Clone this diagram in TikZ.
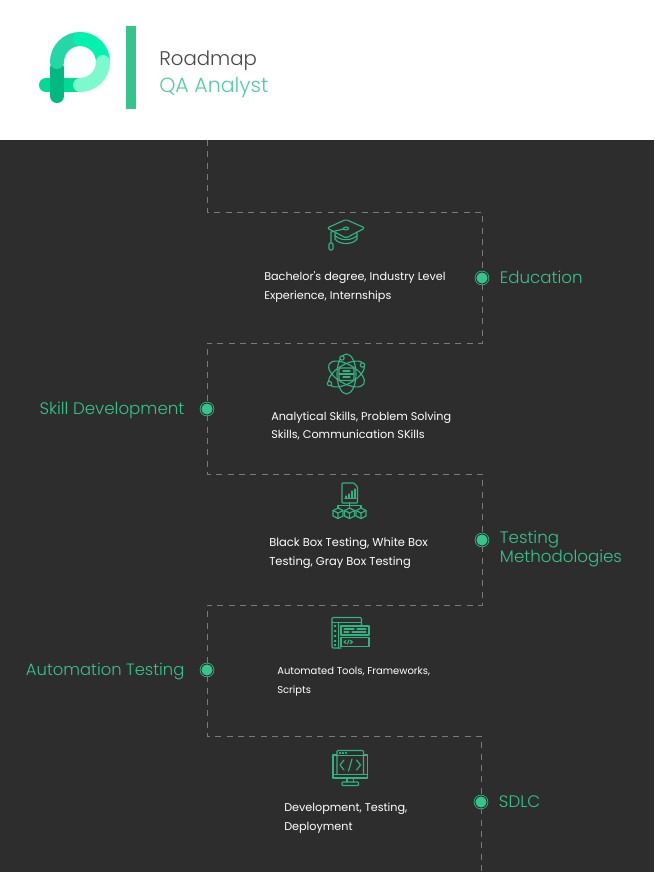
\documentclass[tikz,border=0pt]{standalone}
\usepackage{fontspec}
\setmainfont{Poppins}[UprightFont=* Light]
\newfontfamily\detailfont{Poppins}
\usepackage{tikz}
\usetikzlibrary{positioning}
\definecolor{board}{HTML}{2D2D2D}
\definecolor{leaf}{HTML}{35C48C}
\definecolor{trailgrey}{HTML}{7A7A7A}
\tikzset{
    trail/.style={draw=trailgrey, line width=0.75pt, dash pattern=on 4.5pt off 4pt},
    stop/.style={circle, draw=leaf, fill=leaf, line width=0.55pt, double=board, double distance=0.75pt, minimum size=9pt, inner sep=0pt},
    topic/.style={text=leaf, font=\fontsize{12.5pt}{14.2pt}\selectfont, align=left, inner sep=0pt},
    detail/.style={text=white, font=\detailfont\fontsize{8.4pt}{14pt}\selectfont, align=left, inner sep=0pt, anchor=west},
    icon/.style={draw=leaf!92!black, line width=0.85pt, line join=round, line cap=round},
    swoosh/.style={line width=10.5pt, line cap=round}
}
\begin{document}
\begin{tikzpicture}[x=0.75pt, y=-0.75pt, node distance=8.5pt]
    \fill[white] (0,0) rectangle (654,140);
    \fill[board] (0,140) rectangle (654,872);
    \useasboundingbox (0,0) rectangle (654,872);
    % logo
    \draw[swoosh, color={rgb,255:red,0;green,218;blue,146}] (46,85) -- (80,85);
    \draw[swoosh, color={rgb,255:red,0;green,184;blue,128}] (57,68) -- (57,96);
    \draw[swoosh, color={rgb,255:red,37;green,214;blue,166}] (57,62) arc[start angle=180, end angle=270, radius=23];
    \draw[swoosh, color={rgb,255:red,0;green,242;blue,174}] (80,39) arc[start angle=270, end angle=360, radius=23];
    \draw[swoosh, color={rgb,255:red,125;green,249;blue,206}] (103,62) arc[start angle=0, end angle=90, radius=23];
    \fill[leaf] (125.5,26) rectangle (135.5,109);
    \node (role) [anchor=base west, inner sep=0pt, text=black!72, font=\fontsize{14.8pt}{17pt}\selectfont] at (159,65) {Roadmap};
    \node (job) [anchor=base west, inner sep=0pt, text=leaf!85!white, font=\fontsize{15.4pt}{17pt}\selectfont] at (159,92) {QA Analyst};
    % stops and their labels
    \node (edu) [stop] at (482,278) {};
    \node (skill) [stop] at (207,409) {};
    \node (meth) [stop] at (482,540) {};
    \node (auto) [stop] at (207,670) {};
    \node (sdlc) [stop] at (481,802) {};
    \node (edulabel) [topic, right=of edu, yshift=0.75pt] {Education};
    \node (skilllabel) [topic, left=12pt of skill, yshift=-0.75pt] {Skill Development};
    \node (methlabel) [topic, right=of meth, yshift=-7pt] {Testing\\Methodologies};
    \node (autolabel) [topic, left=12pt of auto, yshift=-1.5pt, font=\fontsize{12.3pt}{14.2pt}\selectfont] {Automation Testing};
    \node (sdlclabel) [topic, right=of sdlc] {SDLC};
    % texts
    \node (edutext) [detail] at (264,287) {Bachelor's degree, Industry Level\\Experience, Internships};
    \node (skilltext) [detail] at (271,426) {Analytical Skills, Problem Solving\\Skills, Communication SKills};
    \node (methtext) [detail, font=\detailfont\fontsize{8.6pt}{14pt}\selectfont] at (269,553) {Black Box Testing, White Box\\Testing, Gray Box Testing};
    \node (autotext) [detail, font=\detailfont\fontsize{7.5pt}{14pt}\selectfont] at (277,681.5) {Automated Tools, Frameworks,\\Scripts};
    \node (sdlctext) [detail] at (284,818) {Development, Testing,\\Deployment};
    % dashed route
    \coordinate (start) at (207,140);
    \coordinate (c1) at (207,212);
    \coordinate (c2) at (482,212);
    \coordinate (c3) at (482,343);
    \coordinate (c4) at (207,343);
    \coordinate (c5) at (207,474);
    \coordinate (c6) at (482,474);
    \coordinate (c7) at (482,605);
    \coordinate (c8) at (207,605);
    \coordinate (c9) at (207,736);
    \coordinate (c10) at (481,736);
    \coordinate (end) at (481,872);
    \draw[trail] (start) -- (c1) -- (c2) -- (edu);
    \draw[trail] (edu) -- (c3) -- (c4) -- (skill);
    \draw[trail] (skill) -- (c5) -- (c6) -- (meth);
    \draw[trail] (meth) -- (c7) -- (c8) -- (auto);
    \draw[trail] (auto) -- (c9) -- (c10) -- (sdlc);
    \draw[trail] (sdlc) -- (end);
    % graduation cap
    \draw[icon, rounded corners=1.2pt] (346,219.5) -- (365,228) -- (346,238) -- (327,228) -- cycle;
    \draw[icon] (346,228.5) ellipse[x radius=2.6, y radius=1.4];
    \draw[icon] (343.5,229) -- (331,232) -- (331,243);
    \draw[icon, rounded corners=0.8pt] (329,243) rectangle (333,250);
    \draw[icon] (335,233) -- (335,239) .. controls (339,245) and (353,245) .. (357,239) -- (357,233);
    \draw[icon] (335,235.5) .. controls (340,241) and (352,241) .. (357,235.5);
    % atom
    \foreach \ang in {30,90,150}
        \draw[icon] (346.5,374) ellipse[x radius=20, y radius=9.5, rotate=\ang];
    \draw[icon, fill=board, rounded corners=1pt] (339,368) rectangle (354,380.5);
    \draw[icon] (339,374) -- (354,374);
    \draw[icon] (343,371) -- (350,371) (343,377) -- (350,377);
    \foreach \cx/\cy in {342/358,362.5/365,329.5/383.5}
        \draw[icon, fill=board] (\cx,\cy) circle[radius=2.2];
    % report and cubes
    \draw[icon, rounded corners=0.6pt] (342,483) -- (354,483) -- (357.5,487) -- (357.5,503) -- (342,503) -- cycle;
    \foreach \bx/\by in {346/496,349/494,352/491,355/489}
        \draw[icon] (\bx,498) -- (\bx,\by);
    \draw[icon] (345,498.5) -- (356,498.5);
    \draw[icon] (349.5,503) -- (349.5,508);
    \draw[icon] (338,508) -- (338,505.5) -- (361,505.5) -- (361,508);
    \foreach \cx in {338,349.5,361} {
        \draw[icon] (\cx,508) -- (\cx+5,510.5) -- (\cx+5,516) -- (\cx,518.5) -- (\cx-5,516) -- (\cx-5,510.5) -- cycle;
        \draw[icon] (\cx-5,510.5) -- (\cx,513) -- (\cx+5,510.5) (\cx,513) -- (\cx,518.5);
    }
    % code window
    \draw[icon, rounded corners=0.8pt] (341,648) -- (332,648) -- (332,617.5) -- (361.5,617.5) -- (361.5,626);
    \draw[icon] (332,622.5) -- (361.5,622.5);
    \draw[icon] (338.5,622.5) -- (338.5,648);
    \foreach \dy in {626,631,636,641,645}
        \draw[icon] (334.5,\dy) -- (335.8,\dy);
    \draw[icon, fill=board] (341,626) rectangle (369,635);
    \draw[icon, fill=board] (341,637.5) rectangle (369,646.5);
    \draw[icon] (344,629) -- (354,629) (357,629) -- (366,629) (344,632) -- (349,632) (352,632) -- (366,632);
    \draw[icon] (346,640.5) -- (344,642) -- (346,643.5);
    \draw[icon] (349,640) -- (347.5,644);
    \draw[icon] (350.5,640.5) -- (352.5,642) -- (350.5,643.5);
    % monitor
    \draw[icon] (336.7,755) -- (333,755) -- (333,778) -- (367.5,778) -- (367.5,755) -- (363.5,755);
    \draw[icon] (333,774.5) -- (367.5,774.5);
    \draw[icon, rounded corners=0.6pt] (337,774.5) -- (337,750.5) -- (363.5,750.5) -- (363.5,774.5);
    \draw[icon] (337,755.5) -- (363.5,755.5);
    \draw[icon] (339.5,753) -- (340.5,753) (342.5,753) -- (343.5,753) (345.5,753) -- (346.5,753);
    \draw[icon] (344,760) -- (340,765) -- (344,770);
    \draw[icon] (352,759) -- (348.5,771);
    \draw[icon] (356.5,760) -- (360.5,765) -- (356.5,770);
    \draw[icon] (347,778) -- (347,782) (353.5,778) -- (353.5,782);
    \draw[icon, rounded corners=0.6pt] (342,782) rectangle (358.5,785.5);
\end{tikzpicture}
\end{document}
